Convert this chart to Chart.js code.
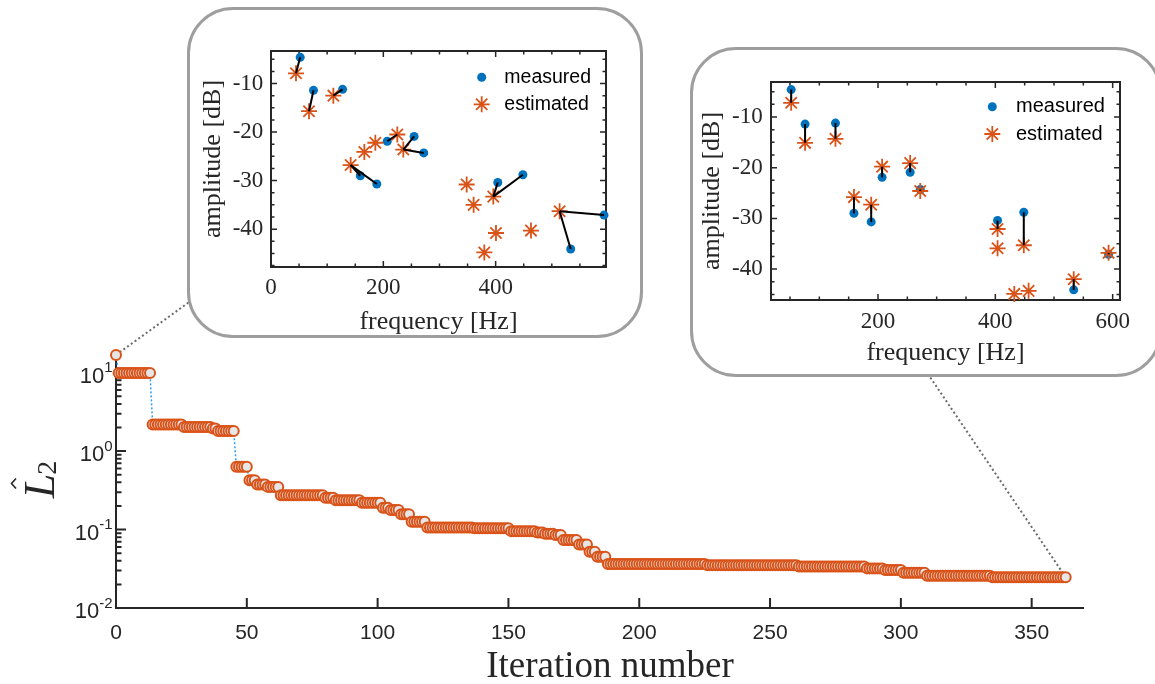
<!DOCTYPE html>
<html><head><meta charset="utf-8">
<script src="https://cdn.jsdelivr.net/npm/chart.js@4.4.1/dist/chart.umd.min.js"></script>
<style>
html,body{margin:0;padding:0;background:#fff;overflow:hidden;width:1155px;height:684px;position:relative;}
#main{position:absolute;left:0;top:0;}
.inset{position:absolute;box-sizing:border-box;border:3px solid #9e9e9e;border-radius:46px;background:#fff;overflow:hidden;}
.inset canvas{position:absolute;left:0;top:0;}
</style></head><body>
<canvas id="main" width="1155" height="684"></canvas>
<div class="inset" style="left:187px;top:7px;width:456px;height:331px;"><canvas id="inset1" width="450" height="325"></canvas></div>
<div class="inset" style="left:690px;top:47px;width:472px;height:330px;"><canvas id="inset2" width="466" height="324"></canvas></div>
<script>
// ---------------- data ----------------
// loss value L2 for iteration 0..363
const lossValues = [
 16.8, 9.9, 9.9, 9.9, 9.9, 9.9, 9.9, 9.9, 9.9, 9.9,
 9.9, 9.9, 9.9, 9.9, 2.18, 2.18, 2.18, 2.18, 2.18, 2.18,
 2.18, 2.18, 2.18, 2.18, 2.18, 2.18, 2.03, 2.03, 2.03, 2.03,
 2.03, 2.03, 2.03, 2.03, 2.03, 2.03, 2.03, 1.94, 1.94, 1.81,
 1.81, 1.81, 1.81, 1.81, 1.81, 1.81, 0.63, 0.63, 0.63, 0.63,
 0.63, 0.425, 0.425, 0.425, 0.375, 0.375, 0.375, 0.375, 0.35, 0.35,
 0.35, 0.35, 0.35, 0.274, 0.274, 0.274, 0.274, 0.274, 0.274, 0.274,
 0.274, 0.274, 0.274, 0.274, 0.274, 0.274, 0.274, 0.274, 0.274, 0.274,
 0.255, 0.255, 0.255, 0.255, 0.237, 0.237, 0.237, 0.237, 0.237, 0.237,
 0.237, 0.237, 0.237, 0.237, 0.219, 0.219, 0.219, 0.219, 0.219, 0.219,
 0.219, 0.219, 0.189, 0.189, 0.189, 0.177, 0.177, 0.177, 0.177, 0.157,
 0.157, 0.157, 0.157, 0.126, 0.126, 0.126, 0.126, 0.126, 0.126, 0.106,
 0.106, 0.106, 0.106, 0.106, 0.106, 0.106, 0.106, 0.106, 0.106, 0.106,
 0.106, 0.106, 0.106, 0.106, 0.106, 0.106, 0.106, 0.104, 0.104, 0.104,
 0.104, 0.104, 0.104, 0.104, 0.104, 0.104, 0.104, 0.104, 0.104, 0.104,
 0.104, 0.0955, 0.0955, 0.0955, 0.0955, 0.0955, 0.0955, 0.0955, 0.0955, 0.0955,
 0.0955, 0.092, 0.092, 0.092, 0.0884, 0.0884, 0.0884, 0.0884, 0.085, 0.085,
 0.085, 0.0734, 0.0734, 0.0734, 0.0734, 0.0734, 0.0734, 0.0647, 0.0647, 0.0647,
 0.0647, 0.0521, 0.0521, 0.0521, 0.045, 0.045, 0.045, 0.045, 0.0365, 0.0365,
 0.0365, 0.0365, 0.0365, 0.0365, 0.0365, 0.0365, 0.0365, 0.0365, 0.0365, 0.0365,
 0.0365, 0.0365, 0.0365, 0.0365, 0.0365, 0.0365, 0.0365, 0.0365, 0.0365, 0.0365,
 0.0365, 0.0365, 0.0365, 0.0365, 0.0365, 0.0365, 0.0365, 0.0365, 0.0365, 0.0365,
 0.0365, 0.0365, 0.0365, 0.0365, 0.0365, 0.0365, 0.0352, 0.0352, 0.0352, 0.0352,
 0.0352, 0.0352, 0.0352, 0.0352, 0.0352, 0.0352, 0.0352, 0.0352, 0.0352, 0.0352,
 0.0352, 0.0352, 0.0352, 0.0352, 0.0352, 0.0352, 0.0352, 0.0352, 0.0352, 0.0352,
 0.0352, 0.0352, 0.0352, 0.0352, 0.0352, 0.0352, 0.0352, 0.0352, 0.0352, 0.0352,
 0.0352, 0.0338, 0.0338, 0.0338, 0.0338, 0.0338, 0.0338, 0.0338, 0.0338, 0.0338,
 0.0338, 0.0338, 0.0338, 0.0338, 0.0338, 0.0338, 0.0338, 0.0338, 0.0338, 0.0338,
 0.0338, 0.0338, 0.0338, 0.0338, 0.0338, 0.0338, 0.0338, 0.032, 0.032, 0.032,
 0.032, 0.032, 0.032, 0.032, 0.0305, 0.0305, 0.0305, 0.0305, 0.0305, 0.0305,
 0.0305, 0.0281, 0.0281, 0.0281, 0.0281, 0.0281, 0.0281, 0.0281, 0.0281, 0.0281,
 0.0258, 0.0258, 0.0258, 0.0258, 0.0258, 0.0258, 0.0258, 0.0258, 0.0258, 0.0258,
 0.0258, 0.0258, 0.0258, 0.0258, 0.0258, 0.0258, 0.0258, 0.0258, 0.0258, 0.0258,
 0.0258, 0.0258, 0.0258, 0.0258, 0.0258, 0.0247, 0.0247, 0.0247, 0.0247, 0.0247,
 0.0247, 0.0247, 0.0247, 0.0247, 0.0247, 0.0247, 0.0247, 0.0247, 0.0247, 0.0247,
 0.0247, 0.0247, 0.0247, 0.0247, 0.0247, 0.0247, 0.0247, 0.0247, 0.0247, 0.0247,
 0.0247, 0.0247, 0.0247, 0.0247
];
const mainXRange = [0, 370];
const mainYRange = [0.01, 16.8];
const mainXStep = 50;
const yDecadeExponents = [-2, -1, 0, 1];
const yMinorMantissas = [2, 3, 4, 5, 6, 7, 8, 9];
const mainXTitle = 'Iteration number';

// measured partials (same in both insets)
const measuredFreq = [52, 75.7, 127.5, 159, 188.4, 207, 254.8, 272, 403.8, 448.5, 533.6, 593];
const measuredAmp  = [-4.6, -11.4, -11.2, -29.0, -30.7, -21.9, -20.9, -24.3, -30.4, -28.8, -44.1, -37.1];

// inset 1 (first iteration)
const estFreq1 = [44.5, 67.7, 111, 141.8, 166.2, 185.8, 224.9, 235.6, 348.4, 360.8, 395.8, 400.6, 379.8, 462.9, 513.9];
const estAmp1  = [-7.9, -15.7, -12.5, -26.8, -24.1, -22.2, -20.5, -23.6, -30.8, -35.0, -33.3, -40.8, -44.8, -40.3, -36.3];
const pairMeasured1  = [0, 1, 2, 3, 4, 5, 6, 7, 8, 9, 10, 11];
const pairEstimated1 = [0, 1, 2, 3, 3, 6, 7, 7, 10, 10, 14, 14];
const inset1FreqRange = [0, 596.5];
const inset1AmpRange = [-47.8, -3.3];

// inset 2 (last iteration)
const estFreq2 = [52, 75.7, 127.5, 159, 188.4, 207, 254.8, 272, 403.8, 403.8, 448.5, 432.3, 456.7, 533.6, 593];
const estAmp2  = [-7.2, -15.1, -14.3, -25.8, -27.3, -19.8, -19.1, -24.6, -32.1, -35.9, -35.3, -44.9, -44.3, -42.0, -36.8];
const pairMeasured2  = [0, 1, 2, 3, 4, 5, 6, 7, 8, 9, 10, 11];
const pairEstimated2 = [0, 1, 2, 3, 4, 5, 6, 7, 8, 10, 13, 14];
const inset2FreqRange = [17.6, 612.5];
const inset2AmpRange = [-46.1, -3.1];

const insetFreqStep = 50, insetFreqLabelEvery = 200;
const insetAmpStep = 2.5, insetAmpLabelEvery = 10;
const legendLabels = ['measured', 'estimated'];
const insetXTitle = 'frequency [Hz]';
const insetYTitle = 'amplitude [dB]';

// ---------------- style ----------------
const AXIS = '#262626';
const SANS = "'Liberation Sans', Arial, sans-serif";
const SERIF = "'Liberation Serif', 'Times New Roman', serif";
const ORANGE = '#D95319', BLUE = '#0072BD';
Chart.defaults.font.family = SANS;
Chart.defaults.color = AXIS;

const mainDecor = {
  id: 'mainDecor',
  beforeDatasetsDraw(chart) {
    const {ctx, chartArea: ca, scales: {x, y}} = chart;
    ctx.save();
    // connectors to the insets
    ctx.strokeStyle = '#6a6a6a'; ctx.lineWidth = 2; ctx.setLineDash([2, 2.6]);
    const last = lossValues.length - 1;
    ctx.beginPath();
    ctx.moveTo(x.getPixelForValue(0), y.getPixelForValue(lossValues[0]));
    ctx.lineTo(188.5, 302.5);
    ctx.moveTo(x.getPixelForValue(last), y.getPixelForValue(lossValues[last]));
    ctx.lineTo(930, 377);
    ctx.stroke();
    ctx.setLineDash([]);
    // axis lines
    ctx.strokeStyle = AXIS; ctx.lineWidth = 2; ctx.lineJoin = 'miter';
    ctx.beginPath();
    ctx.moveTo(ca.left, ca.top); ctx.lineTo(ca.left, ca.bottom); ctx.lineTo(ca.right, ca.bottom);
    ctx.stroke();
    ctx.beginPath();
    x.ticks.forEach(t => { const px = x.getPixelForValue(t.value); ctx.moveTo(px, ca.bottom); ctx.lineTo(px, ca.bottom - 10); });
    yDecadeExponents.forEach(e => {
      const py = y.getPixelForValue(Math.pow(10, e));
      ctx.moveTo(ca.left, py); ctx.lineTo(ca.left + 10, py);
      yMinorMantissas.forEach(m => {
        const v = m * Math.pow(10, e);
        if (v > y.max) return;
        const p = y.getPixelForValue(v);
        ctx.moveTo(ca.left, p); ctx.lineTo(ca.left + 5.5, p);
      });
    });
    ctx.stroke();
    ctx.restore();
  },
  afterDraw(chart) {
    const {ctx, scales: {y}} = chart;
    ctx.save();
    ctx.fillStyle = AXIS; ctx.textBaseline = 'alphabetic'; ctx.textAlign = 'left';
    yDecadeExponents.forEach(e => {
      const py = y.getPixelForValue(Math.pow(10, e));
      ctx.font = '22px ' + SANS; const wb = ctx.measureText('10').width;
      ctx.font = '15px ' + SANS; const we = ctx.measureText(String(e)).width;
      const xb = 112.5 - we - wb;
      ctx.font = '22px ' + SANS; ctx.fillText('10', xb, py + 10);
      ctx.font = '15px ' + SANS; ctx.fillText(String(e), xb + wb, py - 0.5);
    });
    // x title
    ctx.font = '37px ' + SERIF; ctx.textAlign = 'center';
    ctx.fillText(mainXTitle, 610, 677);
    // y title  L-hat subscript 2
    ctx.translate(54, 477); ctx.rotate(-Math.PI / 2);
    ctx.textAlign = 'left';
    ctx.font = 'italic 44px ' + SERIF; const wL = ctx.measureText('L').width;
    ctx.font = '28px ' + SERIF; const w2 = ctx.measureText('2').width;
    const start = -(wL + w2) / 2 - 2;
    ctx.font = 'italic 44px ' + SERIF; ctx.fillText('L', start, 0);
    ctx.font = '28px ' + SERIF; ctx.fillText('2', start + wL - 1, 2);
    const hx = start + wL * 0.6, hy = -41;
    ctx.strokeStyle = AXIS; ctx.lineWidth = 1.6;
    ctx.beginPath(); ctx.moveTo(hx - 5, hy + 3); ctx.lineTo(hx, hy - 1.5); ctx.lineTo(hx + 5, hy + 3); ctx.stroke();
    ctx.restore();
  }
};

new Chart(document.getElementById('main'), {
  type: 'scatter',
  data: { datasets: [{
    data: lossValues.map((v, i) => ({x: i, y: v})),
    showLine: true, borderColor: '#2e9ef2', borderWidth: 1.5, borderDash: [2, 2],
    pointRadius: 5, pointBorderWidth: 2, pointBorderColor: ORANGE, pointBackgroundColor: '#E6E6E6',
    clip: false
  }]},
  options: {
    responsive: false, animation: false, events: [],
    layout: {padding: {top: 355, right: 71, bottom: 0, left: 0}},
    plugins: {legend: {display: false}, tooltip: {enabled: false}},
    scales: {
      x: {type: 'linear', min: mainXRange[0], max: mainXRange[1],
          afterFit: s => { s.height = 76; },
          grid: {display: false, drawTicks: false}, border: {display: false},
          ticks: {stepSize: mainXStep, includeBounds: false, autoSkip: false, maxRotation: 0, padding: 12.4, font: {size: 21}, color: AXIS}},
      y: {type: 'logarithmic', min: mainYRange[0], max: mainYRange[1],
          afterFit: s => { s.width = 116; },
          grid: {display: false, drawTicks: false}, border: {display: false},
          ticks: {display: false}}
    }
  },
  plugins: [mainDecor]
});

// ---------------- insets ----------------
const insetDecor = {
  id: 'insetDecor',
  beforeDatasetsDraw(chart) {
    const {ctx, chartArea: ca, scales: {x, y}} = chart;
    ctx.save();
    ctx.strokeStyle = AXIS; ctx.lineWidth = 2;
    ctx.strokeRect(ca.left, ca.top, ca.right - ca.left, ca.bottom - ca.top);
    ctx.lineWidth = 1.5; ctx.beginPath();
    x.ticks.forEach(t => {
      const L = Math.abs(t.value % insetFreqLabelEvery) < 1e-6 ? 6 : 3.5;
      const px = x.getPixelForValue(t.value);
      ctx.moveTo(px, ca.bottom); ctx.lineTo(px, ca.bottom - L);
      ctx.moveTo(px, ca.top); ctx.lineTo(px, ca.top + L);
    });
    y.ticks.forEach(t => {
      const L = Math.abs(t.value % insetAmpLabelEvery) < 1e-6 ? 6 : 3.5;
      const py = y.getPixelForValue(t.value);
      ctx.moveTo(ca.left, py); ctx.lineTo(ca.left + L, py);
      ctx.moveTo(ca.right, py); ctx.lineTo(ca.right - L, py);
    });
    ctx.stroke();
    ctx.restore();
  },
  afterDraw(chart, args, opts) {
    const {ctx, chartArea: ca} = chart;
    const mx = ca.right - opts.dx, y1 = ca.top + opts.dy1, y2 = ca.top + opts.dy2, tx = ca.right - opts.tx;
    ctx.save();
    ctx.fillStyle = BLUE;
    ctx.beginPath(); ctx.arc(mx, y1, 4.5, 0, Math.PI * 2); ctx.fill();
    ctx.strokeStyle = ORANGE; ctx.lineWidth = 1.8; ctx.beginPath();
    for (let k = 0; k < 4; k++) {
      const a = k * Math.PI / 4, r = 8;
      ctx.moveTo(mx - r * Math.cos(a), y2 - r * Math.sin(a));
      ctx.lineTo(mx + r * Math.cos(a), y2 + r * Math.sin(a));
    }
    ctx.stroke();
    ctx.fillStyle = '#000'; ctx.font = opts.fontSize + 'px ' + SANS;
    ctx.textBaseline = 'middle'; ctx.textAlign = 'left';
    ctx.fillText(legendLabels[0], tx, y1);
    ctx.fillText(legendLabels[1], tx, y2);
    ctx.restore();
  }
};

function makeInset(id, o) {
  const datasets = [];
  o.pairM.forEach((mi, k) => {
    const ei = o.pairE[k];
    datasets.push({
      data: [{x: measuredFreq[mi], y: measuredAmp[mi]}, {x: o.estF[ei], y: o.estA[ei]}],
      showLine: true, borderColor: '#000', borderWidth: 2, pointRadius: 0, order: 0, clip: false
    });
  });
  datasets.push({
    data: measuredFreq.map((f, i) => ({x: f, y: measuredAmp[i]})),
    pointStyle: 'circle', pointRadius: 4.5, pointBackgroundColor: BLUE, pointBorderWidth: 0,
    showLine: false, order: 2, clip: false
  });
  datasets.push({
    data: o.estF.map((f, i) => ({x: f, y: o.estA[i]})),
    pointStyle: 'star', pointRadius: 8, pointBorderColor: ORANGE, pointBorderWidth: 1.8,
    showLine: false, order: 1, clip: false
  });
  new Chart(document.getElementById(id), {
    type: 'scatter',
    data: {datasets},
    options: {
      responsive: false, animation: false, events: [],
      layout: {padding: {top: o.padTop, right: o.padRight, left: 0, bottom: 0}},
      plugins: {legend: {display: false}, tooltip: {enabled: false}, insetDecor: o.legend},
      scales: {
        x: {type: 'linear', min: o.xr[0], max: o.xr[1],
            afterFit: s => { s.height = o.xH; },
            grid: {display: false, drawTicks: false}, border: {display: false},
            ticks: {stepSize: insetFreqStep, includeBounds: false, autoSkip: false, maxRotation: 0,
                    padding: o.xPad, font: {family: SERIF, size: 23}, color: AXIS,
                    callback: v => (Math.abs(v % insetFreqLabelEvery) < 1e-6 ? String(v) : '')},
            title: {display: true, text: insetXTitle, font: {family: SERIF, size: 26}, color: AXIS,
                    padding: {top: 0, bottom: o.xTitlePad}}},
        y: {type: 'linear', min: o.yr[0], max: o.yr[1],
            afterFit: s => { s.width = o.yW; },
            grid: {display: false, drawTicks: false}, border: {display: false},
            ticks: {stepSize: insetAmpStep, includeBounds: false, autoSkip: false,
                    padding: o.yPad, font: {family: SERIF, size: 23}, color: AXIS,
                    callback: v => (Math.abs(v % insetAmpLabelEvery) < 1e-6 ? String(v) : '')},
            title: {display: true, text: insetYTitle, font: {family: SERIF, size: 26}, color: AXIS,
                    padding: {top: o.yTitlePad, bottom: 0}}}
      }
    },
    plugins: [insetDecor]
  });
}

makeInset('inset1', {
  estF: estFreq1, estA: estAmp1, pairM: pairMeasured1, pairE: pairEstimated1,
  xr: inset1FreqRange, yr: inset1AmpRange,
  padTop: 41, padRight: 34, xH: 68, yW: 81, xPad: 7.5, yPad: 7.7, xTitlePad: -2.3, yTitlePad: 7.7,
  legend: {dx: 124.3, dy1: 26.3, dy2: 53.3, tx: 101.7, fontSize: 19.5}
});
makeInset('inset2', {
  estF: estFreq2, estA: estAmp2, pairM: pairMeasured2, pairE: pairEstimated2,
  xr: inset2FreqRange, yr: inset2AmpRange,
  padTop: 32, padRight: 39, xH: 74, yW: 78, xPad: 7.9, yPad: 8.3, xTitlePad: 5.1, yTitlePad: 3.1,
  legend: {dx: 127.7, dy1: 24.7, dy2: 52, tx: 104, fontSize: 20}
});
</script>
</body></html>
